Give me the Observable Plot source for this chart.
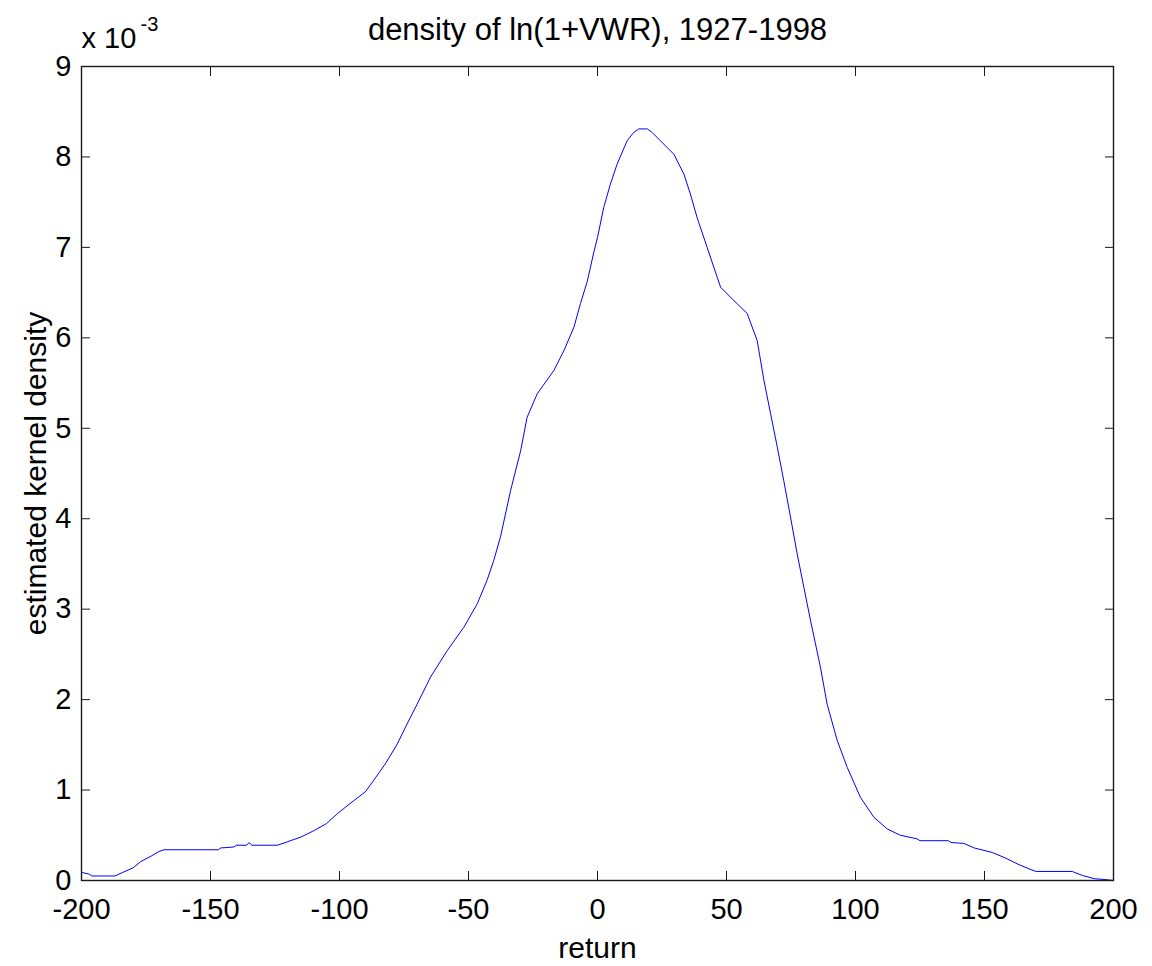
<!DOCTYPE html>
<html>
<head>
<meta charset="utf-8">
<script src="https://cdn.jsdelivr.net/npm/d3@7"></script>
<script src="https://cdn.jsdelivr.net/npm/@observablehq/plot@0.6"></script>
<style>
  html, body { margin: 0; padding: 0; background: #fff; }
  svg { display: block; }
</style>
</head>
<body>
<div id="chart"></div>
<script>
// Values (density in units of 1e-3)
const returns = [
  -200, -197, -196, -187, -184, -180, -177, -173, -170, -168,
  -147, -146, -141, -140, -136, -135, -134, -124, -120, -115,
  -110, -105, -100.8, -94.6, -90, -86.7, -82, -77.6, -74, -69.9,
  -64.7, -58.3, -51.8, -46.6, -42.8, -40.2, -37.6, -33.7, -29.8, -27.3,
  -23.4, -16.9, -13.0, -9.1, -6.6, -4.0, -1.4, 0, 2.4, 5.0,
  7.6, 11.5, 14, 16.0, 19.3, 21.2, 29.6, 33.5, 36.0, 38.6,
  42.5, 46.4, 47.7, 52.2, 58.0, 61.9, 64.5, 67.1, 69.7, 72.2,
  74.8, 77.4, 80.0, 82.6, 86.4, 89.0, 92.9, 96.8, 101.9, 107.1,
  112.3, 117.4, 123.9, 125, 136, 137, 142, 146, 153, 158,
  163, 168, 170, 184, 188, 192.6, 197, 200
];
const density = [
  0.09, 0.07, 0.05, 0.05, 0.09, 0.14, 0.21, 0.27, 0.32, 0.34,
  0.34, 0.36, 0.37, 0.39, 0.39, 0.42, 0.39, 0.39, 0.43, 0.48,
  0.55, 0.63, 0.74, 0.88, 0.98, 1.11, 1.30, 1.51, 1.72, 1.95,
  2.25, 2.54, 2.80, 3.06, 3.32, 3.54, 3.80, 4.31, 4.75, 5.12,
  5.38, 5.64, 5.86, 6.12, 6.38, 6.62, 6.95, 7.11, 7.44, 7.70,
  7.92, 8.18, 8.27, 8.31, 8.31, 8.27, 8.03, 7.81, 7.59, 7.33,
  7.00, 6.67, 6.56, 6.43, 6.27, 5.97, 5.53, 5.16, 4.79, 4.42,
  4.02, 3.61, 3.24, 2.87, 2.36, 1.95, 1.55, 1.25, 0.92, 0.70,
  0.57, 0.50, 0.46, 0.44, 0.44, 0.42, 0.41, 0.36, 0.31, 0.25,
  0.18, 0.12, 0.10, 0.10, 0.055, 0.02, 0.01, 0.0
];
const xTicks = [-200, -150, -100, -50, 0, 50, 100, 150, 200];
const yTicks = [0, 1, 2, 3, 4, 5, 6, 7, 8, 9];
const titleText = "density of ln(1+VWR), 1927-1998";
const xLabel = "return";
const yLabel = "estimated kernel density";
const exponentBase = "x 10";
const exponentPower = "-3";

const data = returns.map((r, i) => ({r, d: density[i]}));
const ink = "#1a1a1a";
const fmt = d => String(d);

const chart = Plot.plot({
  width: 1152,
  height: 966,
  marginLeft: 81,
  marginRight: 39,
  marginTop: 66,
  marginBottom: 86,
  style: {fontFamily: "'Liberation Sans', Arial, sans-serif", background: "#fff", color: ink},
  x: {domain: [-200, 200], ticks: xTicks, label: null},
  y: {domain: [0, 9], ticks: yTicks, label: null},
  marks: [
    Plot.line(data, {x: "r", y: "d", stroke: "#0000ff", strokeWidth: 1}),
    Plot.frame({stroke: ink, strokeWidth: 1.4}),
    // inward tick marks on all sides
    Plot.axisX(xTicks, {anchor: "bottom", tickSize: -9, text: null, label: null, stroke: ink}),
    Plot.axisX(xTicks, {anchor: "top", tickSize: -9, text: null, label: null, stroke: ink}),
    Plot.axisY(yTicks, {anchor: "left", tickSize: -9, text: null, label: null, stroke: ink}),
    Plot.axisY(yTicks, {anchor: "right", tickSize: -9, text: null, label: null, stroke: ink}),
    // tick labels
    Plot.axisX(xTicks, {anchor: "bottom", tickSize: 0, tickPadding: 18, fontSize: 29, fill: "#000", label: null, tickFormat: fmt}),
    Plot.axisY(yTicks, {anchor: "left", tickSize: 0, tickPadding: 10, fontSize: 29, fill: "#000", label: null, tickFormat: fmt}),
    // title and labels
    Plot.text([titleText], {frameAnchor: "top", dy: -36, fontSize: 31, fill: "#000", lineAnchor: "middle"}),
    Plot.text([xLabel], {frameAnchor: "bottom", dy: 68, fontSize: 30, fill: "#000", lineAnchor: "middle"}),
    Plot.text([yLabel], {frameAnchor: "left", dx: -45, rotate: -90, fontSize: 30, fill: "#000", textAnchor: "middle", lineAnchor: "middle"}),
    Plot.text([exponentBase], {frameAnchor: "top-left", dx: 0, dy: -28, fontSize: 29, fill: "#000", textAnchor: "start", lineAnchor: "middle"}),
    Plot.text([exponentPower], {frameAnchor: "top-left", dx: 59, dy: -42, fontSize: 20, fill: "#000", textAnchor: "start", lineAnchor: "middle"})
  ]
});
document.getElementById("chart").appendChild(chart);
</script>
</body>
</html>
